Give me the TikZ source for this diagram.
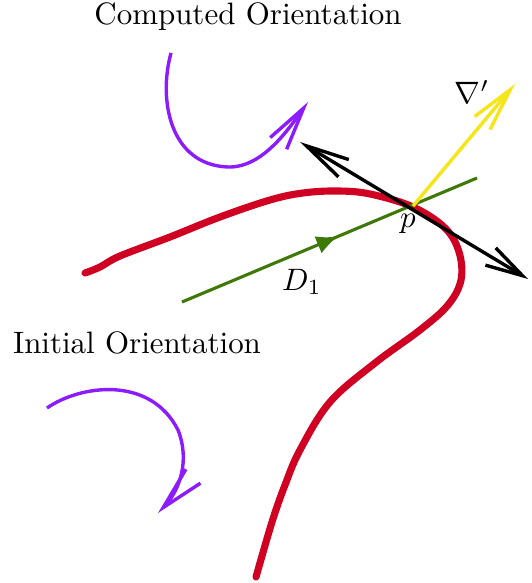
\documentclass[tikz,border=0pt]{standalone}
\usepackage{amsmath}
\usepackage{tikz}
\usetikzlibrary{arrows.meta,decorations.markings}

\definecolor{curvered}{RGB}{208,0,35}
\definecolor{spinpurple}{RGB}{140,28,255}
\definecolor{dirgreen}{RGB}{62,120,5}
\definecolor{gradyellow}{RGB}{245,230,25}

\tikzset{
  barb/.style={-{Straight Barb[length=14pt,width=6.5pt]}},
  spin/.style={spinpurple, line width=1.1pt, barb},
}

\begin{document}
\begin{tikzpicture}[x=0.323pt, y=-0.323pt, baseline=(current bounding box.center)]
  \useasboundingbox (0,0) rectangle (531,583);
  \coordinate (p) at (413,206);
  \coordinate (n1) at (300,142);
  \coordinate (n2) at (528,279);
  \coordinate (g) at (515,84);
  \coordinate (d0) at (182,302);
  \coordinate (d1) at (477,178);
  \coordinate (c0) at (171,53);
  \coordinate (c1) at (308,102);
  \coordinate (i0) at (47,408);
  \coordinate (i1) at (158,513);
  \node (computed) at (248,17) {Computed Orientation};
  \node (initial) at (137,343) {Initial Orientation};
  \node (nabla) at (472,92) {$\nabla'$};
  \node (plabel) at (408,224) {$p$};
  \node (dlabel) at (302,282) {$D_1$};
  \draw[curvered, line width=2.3pt, line cap=round] plot[smooth, tension=0.6] coordinates {
    (85,273) (100,267) (120,256) (170,237) (220,217) (270,200) (303,193)
    (337,191) (370,194) (413,207) (445,228) (459,252) (461,280) (448,305)
    (420,330) (375,363) (330,402) (300,450) (285,485) (272,522) (256,577)};
  \draw[dirgreen, line width=1pt, postaction={decorate},
    decoration={markings, mark=at position 0.53 with {\arrow{Latex[length=7pt,width=6pt]}}}]
    (d0) -- (d1);
  \draw[gradyellow, line width=1.1pt, barb] (p) -- (g);
  \draw[black, line width=1.1pt, {Straight Barb[length=14pt,width=6.5pt]}-{Straight Barb[length=12pt,width=6.5pt]}] (n1) -- (n2);
  \draw[spin] (c0) .. controls (158,100) and (170,165) .. (228,167)
    .. controls (262,168) and (288,130) .. (c1);
  \draw[spin] (i0) .. controls (80,385) and (150,375) .. (178,430)
    .. controls (190,460) and (180,490) .. (i1);
\end{tikzpicture}
\end{document}
